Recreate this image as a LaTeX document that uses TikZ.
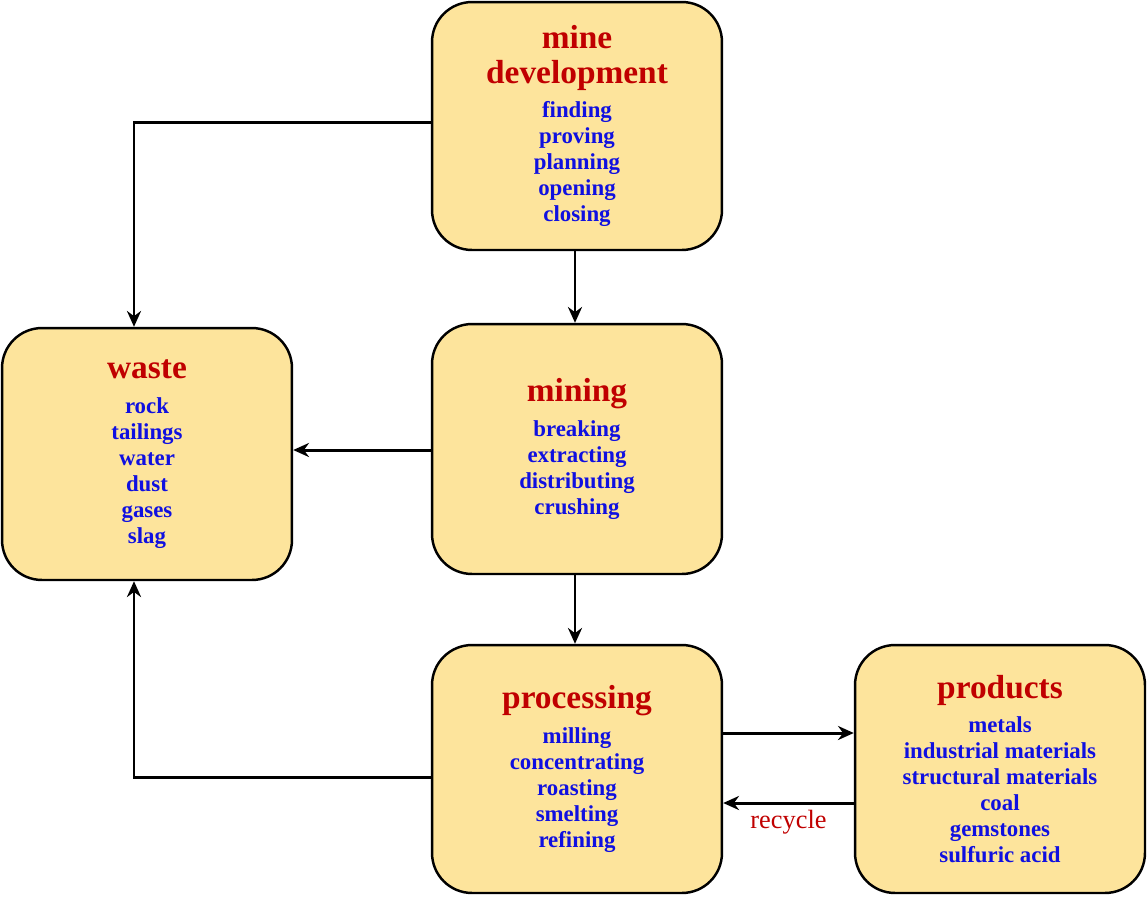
\documentclass[tikz,border=0pt]{standalone}
\usepackage{fontspec}
\setmainfont{Liberation Serif}
\usepackage{tikz}
\usetikzlibrary{arrows.meta}
\definecolor{boxfill}{HTML}{FDE49C}
\definecolor{titlered}{HTML}{C00000}
\definecolor{itemblue}{HTML}{1010E0}
\tikzset{
    stage/.style={draw=black, line width=1.4pt, fill=boxfill, rounded corners=0.8cm,
        minimum width=5.8cm, align=center, font=\bfseries\fontsize{13}{14.8}\selectfont,
        text=itemblue},
    flow/.style={-{Stealth[length=9pt,width=8pt]}, line width=1.7pt}
}
\newcommand{\heading}[1]{{\color{titlered}\fontsize{19}{21.6}\selectfont #1}\\[5pt]}
\begin{document}
\begin{tikzpicture}[x=0.02cm, y=-0.02cm]
    \useasboundingbox (0,0) rectangle (1147,897);
    \node[stage, minimum height=4.96cm] (dev) at (577,126)
        {\heading{mine}\heading{development}finding\\proving\\planning\\opening\\closing};
    \node[stage, minimum height=5cm] (mining) at (577,449)
        {\heading{mining}breaking\\extracting\\distributing\\crushing};
    \node[stage, minimum height=5.04cm] (waste) at (147,454)
        {\heading{waste}rock\\tailings\\water\\dust\\gases\\slag};
    \node[stage, minimum height=4.96cm] (proc) at (577,769)
        {\heading{processing}milling\\concentrating\\roasting\\smelting\\refining};
    \node[stage, minimum height=4.96cm] (prod) at (1000,769)
        {\heading{products}metals\\industrial materials\\structural materials\\coal\\gemstones\\sulfuric acid};
    \draw[flow] (dev.west |- 0,122) -| (waste.north -| 134,0);
    \draw[flow] (dev.south -| 575,0) -- (mining.north -| 575,0);
    \draw[flow] (mining.west |- 0,450) -- (waste.east |- 0,450);
    \draw[flow] (mining.south -| 575,0) -- (proc.north -| 575,0);
    \draw[flow] (proc.west |- 0,777) -| (waste.south -| 134,0);
    \draw[flow] (proc.east |- 0,733) -- (prod.west |- 0,733);
    \draw[flow] (prod.west |- 0,803) -- node[below, text=titlered, font=\fontsize{15}{17}\selectfont] {recycle} (proc.east |- 0,803);
\end{tikzpicture}
\end{document}
